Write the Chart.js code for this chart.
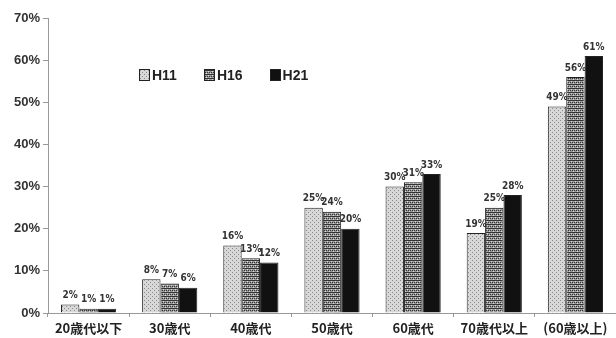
<!DOCTYPE html>
<html>
<head>
<meta charset="utf-8">
<script src="https://cdn.jsdelivr.net/npm/chart.js@4/dist/chart.umd.min.js"></script>
<style>
  body { margin: 0; background: #fff; }
  #wrap { position: relative; width: 616px; height: 338px; }
  #legend { position: absolute; left: 139px; top: 67px; font: bold 14px "Liberation Sans", Arial, sans-serif; color: #222; }
  #legend span.item { display: inline-block; margin-right: 27px; }
  #legend canvas { vertical-align: -1px; margin-right: 2px; border: 1px solid #222; }
</style>
</head>
<body>
<div id="wrap">
  <canvas id="chart" width="616" height="338"></canvas>
  <div id="legend"></div>
</div>
<script>
// データ
var categories = ['20歳代以下', '30歳代', '40歳代', '50歳代', '60歳代', '70歳代以上', '(60歳以上)'];
var seriesNames = ['H11', 'H16', 'H21'];
var h11 = [2, 8, 16, 25, 30, 19, 49];
var h16 = [1, 7, 13, 24, 31, 25, 56];
var h21 = [1, 6, 12, 20, 33, 28, 61];
var yTicks = [0, 10, 20, 30, 40, 50, 60, 70];

// 模様を作る
function makePattern(kind) {
    var c = document.createElement('canvas');
    c.width = 4; c.height = 4;
    var g = c.getContext('2d');
    if (kind === 'dot') {
        g.fillStyle = '#d8d8d8';
        g.fillRect(0, 0, 4, 4);
        g.fillStyle = '#8a8a8a';
        g.fillRect(0, 0, 1, 1);
        g.fillRect(2, 2, 1, 1);
    } else if (kind === 'hatch') {
        g.fillStyle = '#9a9a9a';
        g.fillRect(0, 0, 4, 4);
        g.fillStyle = '#333';
        g.fillRect(0, 0, 4, 1);
        g.fillRect(0, 2, 1, 1);
        g.fillRect(2, 2, 1, 1);
        g.fillStyle = '#ddd';
        g.fillRect(1, 3, 1, 1);
        g.fillRect(3, 1, 1, 1);
    } else {
        g.fillStyle = '#111';
        g.fillRect(0, 0, 4, 4);
    }
    return c;
}

var ctx = document.getElementById('chart').getContext('2d');
var tiles = [makePattern('dot'), makePattern('hatch'), makePattern('solid')];
var fills = tiles.map(function(t) { return ctx.createPattern(t, 'repeat'); });

// 凡例 (HTML)
var legend = document.getElementById('legend');
seriesNames.forEach(function(name, i) {
    var item = document.createElement('span');
    item.className = 'item';
    var sw = document.createElement('canvas');
    sw.width = 9; sw.height = 10;
    var sg = sw.getContext('2d');
    sg.fillStyle = sg.createPattern(tiles[i], 'repeat');
    sg.fillRect(0, 0, 9, 10);
    item.appendChild(sw);
    item.appendChild(document.createTextNode(name));
    legend.appendChild(item);
});

// 棒の上の数値ラベル
var valueLabels = {
    id: 'valueLabels',
    afterDatasetsDraw: function(chart) {
        var c = chart.ctx;
        c.save();
        c.font = 'bold 10px "Liberation Sans Narrow", "DejaVu Sans Condensed", sans-serif';
        c.fillStyle = '#333';
        c.textAlign = 'center';
        c.textBaseline = 'bottom';
        chart.data.datasets.forEach(function(ds, i) {
            chart.getDatasetMeta(i).data.forEach(function(bar, j) {
                c.fillText(ds.data[j] + '%', bar.x, bar.y - 4);
            });
        });
        c.restore();
    }
};

new Chart(ctx, {
    type: 'bar',
    data: {
        labels: categories,
        datasets: [
            { label: seriesNames[0], data: h11, backgroundColor: fills[0] },
            { label: seriesNames[1], data: h16, backgroundColor: fills[1] },
            { label: seriesNames[2], data: h21, backgroundColor: fills[2] }
        ].map(function(d) {
            d.borderColor = '#222';
            d.borderWidth = 1;
            d.categoryPercentage = 0.68;
            d.barPercentage = 1.0;
            return d;
        })
    },
    options: {
        responsive: false,
        animation: false,
        layout: { padding: { top: 18, right: 0, left: 0, bottom: 0 } },
        plugins: {
            legend: { display: false },
            tooltip: { enabled: false }
        },
        scales: {
            x: {
                grid: { drawOnChartArea: false, tickLength: 4, color: '#999' },
                border: { color: '#999' },
                afterFit: function(s) { s.height = 25; },
                ticks: {
                    color: '#222',
                    padding: 3,
                    maxRotation: 0,
                    font: { family: '"Noto Sans CJK JP", sans-serif', size: 13, weight: 'bold' }
                }
            },
            y: {
                min: 0,
                max: 70,
                afterFit: function(s) { s.width = 48; },
                afterBuildTicks: function(s) {
                    s.ticks = yTicks.map(function(v) { return { value: v }; });
                },
                grid: { drawOnChartArea: false, tickLength: 5, color: '#999' },
                border: { color: '#999' },
                ticks: {
                    color: '#333',
                    padding: 3,
                    font: { family: '"Liberation Sans Narrow", "Liberation Sans", sans-serif', size: 13, weight: 'bold' },
                    callback: function(v) { return v + '%'; }
                }
            }
        }
    },
    plugins: [valueLabels]
});
</script>
</body>
</html>
